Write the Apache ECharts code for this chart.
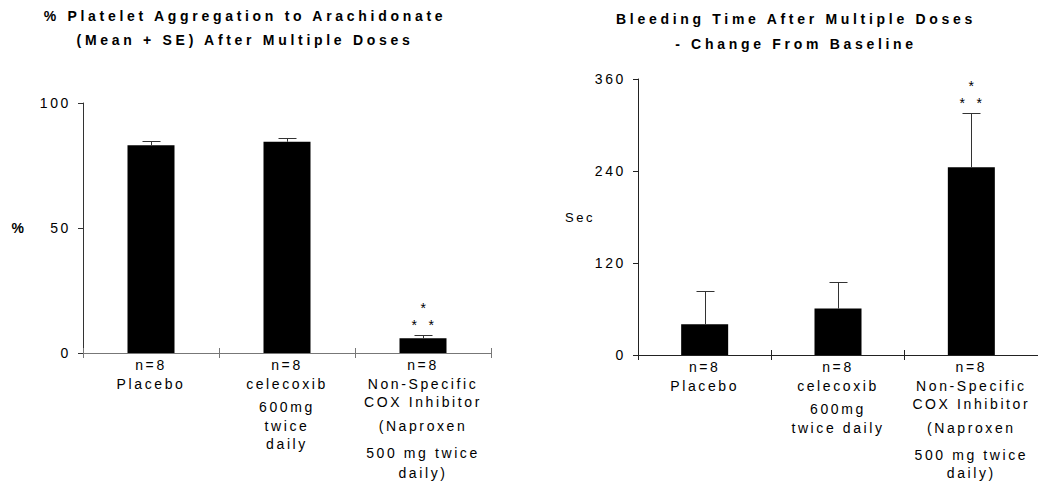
<!DOCTYPE html>
<html>
<head>
<meta charset="utf-8">
<script src="https://cdn.jsdelivr.net/npm/echarts@6/dist/echarts.min.js"></script>
<style>
  html, body { margin: 0; padding: 0; background: #fff; }
  #chart { width: 1038px; height: 496px; }
  #chart text { letter-spacing: 2.6px; }
  #chart text[style*="bold 14px"] { letter-spacing: 3.7px; }
</style>
</head>
<body>
<div id="chart"></div>
<script>
// ---- data ----
const aggCategories = [
  'n=8\nPlacebo',
  'n=8\ncelecoxib\n600mg\ntwice\ndaily',
  'n=8\nNon-Specific\nCOX Inhibitor\n(Naproxen\n500 mg twice\ndaily)'
];
const bleedCategories = [
  'n=8\nPlacebo',
  'n=8\ncelecoxib\n600mg\ntwice daily',
  'n=8\nNon-Specific\nCOX Inhibitor\n(Naproxen\n500 mg twice\ndaily)'
];
const aggMean = [83.1, 84.5, 5.9];
const aggSE = [1.9, 1.6, 1.3];
const bleedMean = [40, 60.5, 245];
const bleedSE = [43, 35, 71];
const aggSignif = [false, false, true];
const bleedSignif = [false, false, true];
const aggTitle = '% Platelet Aggregation to Arachidonate\n(Mean + SE) After Multiple Doses';
const bleedTitle = 'Bleeding Time After Multiple Doses\n- Change From Baseline';

const FONT = "'Liberation Sans', Arial, sans-serif";

// line steps (layout only) for each line of each category label
const aggLineSteps = [[16, 19], [16, 19, 23, 19, 18], [16, 19, 18, 24, 27, 20]];
const bleedLineSteps = [[16, 19], [16, 19, 23, 19], [16, 19, 18, 24, 27, 18]];

function makeRich() {
  const rich = {};
  [16, 18, 19, 20, 23, 24, 27].forEach(h => {
    rich['h' + h] = { lineHeight: h, verticalAlign: 'bottom', fontSize: 14, fontFamily: FONT, color: '#000', align: 'center' };
  });
  return rich;
}
function labelFormatter(steps) {
  return function (value, index) {
    const lh = steps[index];
    return value.split('\n').map((l, j) => '{h' + lh[j] + '|' + l + '}').join('\n');
  };
}

function errorData(mean, se) {
  return mean.map((m, i) => [i, m, m + se[i]]);
}
function errorRender(signif) {
  return function (params, api) {
    const i = api.value(0);
    const base = api.coord([i, api.value(1)]);
    const top = api.coord([i, api.value(2)]);
    const x = Math.round(base[0]) + 0.5;
    const ty = Math.round(top[1]) + 0.5;
    const children = [
      { type: 'line', shape: { x1: x, y1: base[1], x2: x, y2: ty },
        style: { stroke: '#333', lineWidth: 1 } },
      { type: 'line', shape: { x1: x - 9, y1: ty, x2: x + 9, y2: ty },
        style: { stroke: '#333', lineWidth: 1 } }
    ];
    if (signif[i]) {
      const st = { fill: '#000', font: '14px ' + FONT, align: 'center', verticalAlign: 'middle' };
      children.push({ type: 'text', x: x - 8, y: ty - 11, style: Object.assign({ text: '*' }, st) });
      children.push({ type: 'text', x: x + 9, y: ty - 11, style: Object.assign({ text: '*' }, st) });
      children.push({ type: 'text', x: x + 1, y: ty - 28, style: Object.assign({ text: '*' }, st) });
    }
    return { type: 'group', children: children };
  };
}

function xAxes(gridIndex, cats, steps, lineColor) {
  return [
    {
      type: 'category', gridIndex: gridIndex, data: cats, position: 'bottom',
      axisLine: { lineStyle: { color: lineColor, width: 1 } },
      axisTick: { show: true, alignWithLabel: false, length: 5, lineStyle: { color: lineColor } },
      axisLabel: { interval: 0, margin: 3, color: '#000', fontFamily: FONT, fontSize: 14,
        formatter: labelFormatter(steps), rich: makeRich() }
    },
    {
      type: 'category', gridIndex: gridIndex, data: cats, position: 'bottom',
      axisLine: { show: false },
      axisTick: { show: true, inside: true, length: 5, lineStyle: { color: lineColor } },
      axisLabel: { show: false }
    }
  ];
}

const chart = echarts.init(document.getElementById('chart'), null, { renderer: 'svg' });

const option = {
  animation: false,
  backgroundColor: '#fff',
  grid: [
    { left: 83, right: 547, top: 103, bottom: 143 },
    { left: 638, right: -10, top: 79, bottom: 141 }
  ],
  xAxis: [].concat(xAxes(0, aggCategories, aggLineSteps, '#777'),
                   xAxes(1, bleedCategories, bleedLineSteps, '#222')),
  yAxis: [
    {
      type: 'value', gridIndex: 0, min: 0, max: 100, interval: 50,
      name: '%', nameLocation: 'middle', nameRotate: 0, nameGap: 64,
      nameTextStyle: { fontFamily: FONT, fontSize: 14, fontWeight: 'bold', color: '#000', align: 'center', verticalAlign: 'middle' },
      axisLine: { show: true, lineStyle: { color: '#333' } },
      axisTick: { show: true, length: 5, lineStyle: { color: '#333' } },
      axisLabel: { color: '#000', fontFamily: FONT, fontSize: 14, margin: 12 },
      splitLine: { show: false }
    },
    {
      type: 'value', gridIndex: 1, min: 0, max: 360, interval: 120,
      name: 'Sec', nameLocation: 'middle', nameRotate: 0, nameGap: 58,
      nameTextStyle: { fontFamily: FONT, fontSize: 13, color: '#000', align: 'center', verticalAlign: 'middle' },
      axisLine: { show: true, lineStyle: { color: '#222' } },
      axisTick: { show: true, length: 5, lineStyle: { color: '#222' } },
      axisLabel: { color: '#000', fontFamily: FONT, fontSize: 14, margin: 12 },
      splitLine: { show: false }
    }
  ],
  graphic: [
    { type: 'text', x: 245, y: 4,
      style: { text: aggTitle, font: 'bold 14px ' + FONT, fill: '#000', align: 'center', lineHeight: 24 } },
    { type: 'text', x: 796, y: 6,
      style: { text: bleedTitle, font: 'bold 14px ' + FONT, fill: '#000', align: 'center', lineHeight: 25 } }
  ],
  series: [
    { type: 'bar', xAxisIndex: 0, yAxisIndex: 0, data: aggMean, barWidth: 47,
      itemStyle: { color: '#000' } },
    { type: 'custom', xAxisIndex: 0, yAxisIndex: 0, data: errorData(aggMean, aggSE),
      renderItem: errorRender(aggSignif), z: 5 },
    { type: 'bar', xAxisIndex: 2, yAxisIndex: 1, data: bleedMean, barWidth: 47,
      itemStyle: { color: '#000' } },
    { type: 'custom', xAxisIndex: 2, yAxisIndex: 1, data: errorData(bleedMean, bleedSE),
      renderItem: errorRender(bleedSignif), z: 5 }
  ]
};
chart.setOption(option);
</script>
</body>
</html>
